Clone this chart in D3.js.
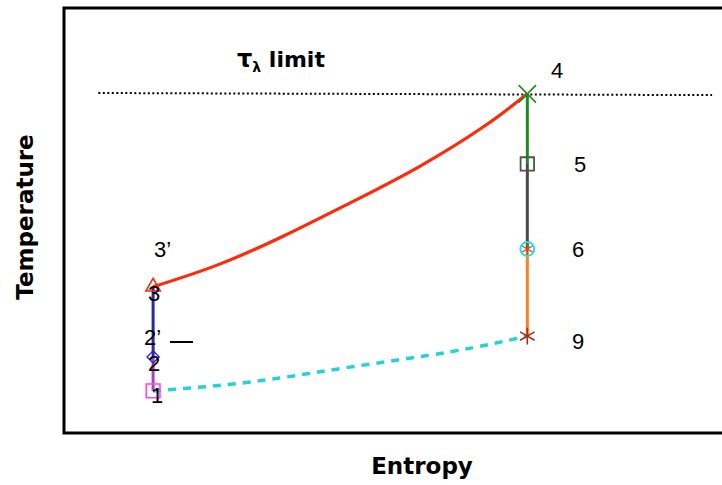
<!DOCTYPE html>
<html><head><meta charset="utf-8">
<script src="https://cdn.jsdelivr.net/npm/d3@7"></script>
<style>body{margin:0;background:#fff}svg{display:block}</style>
</head><body>
<svg id="c" width="722" height="485"></svg>
<script>
// Data (arbitrary entropy/temperature units)
const statePoints = [
  {id:"1", s:13.5, T:9.9},
  {id:"2", s:13.5, T:17.9},
  {id:"3", s:13.5, T:34.4},
  {id:"4", s:70.2, T:79.8},
  {id:"5", s:70.2, T:63.3},
  {id:"6", s:70.2, T:43.3},
  {id:"9", s:70.2, T:22.8}
];
const heatingS = [13.5, 23.2, 33.2, 43.3, 53.5, 63.5, 70.2];
const heatingT = [34.4, 39.5, 46.3, 54.1, 62.4, 72.0, 79.8];
const coolingS = [13.5, 28.2, 43.3, 58.5, 70.2];
const coolingT = [9.9, 12.0, 15.5, 19.1, 22.8];
const limitS = [5.2, 98.2];
const limitT = [80.0, 79.5];
const segments = [
  {from:"1", to:"2", color:"#b040b8"},
  {from:"2", to:"3", color:"#2a2aa8"},
  {from:"4", to:"5", color:"#1f8a1f"},
  {from:"5", to:"6", color:"#4a4a4a"},
  {from:"6", to:"9", color:"#ff7f1e"}
];

const svg = d3.select("#c");
const x = d3.scaleLinear().domain([0,100]).range([64,724]);
const y = d3.scaleLinear().domain([0,100]).range([433,8]);
const P = Object.fromEntries(statePoints.map(d=>[d.id,d]));

// frame
svg.append("rect").attr("x",x(0)).attr("y",y(100)).attr("width",x(100)-x(0)).attr("height",y(0)-y(100))
  .attr("fill","none").attr("stroke","#000").attr("stroke-width",3);

// limit line
svg.append("line").attr("x1",x(limitS[0])).attr("x2",x(limitS[1])).attr("y1",y(limitT[0])).attr("y2",y(limitT[1]))
  .attr("stroke","#000").attr("stroke-width",2).attr("stroke-dasharray","2,2.5");

const line = d3.line().x(d=>x(d[0])).y(d=>y(d[1])).curve(d3.curveNatural);
svg.append("path").attr("d",line(heatingS.map((s,i)=>[s,heatingT[i]])))
  .attr("fill","none").attr("stroke","#ff2a0a").attr("stroke-width",3.2);
svg.append("path").attr("d",line(coolingS.map((s,i)=>[s,coolingT[i]])))
  .attr("fill","none").attr("stroke","#22d3d3").attr("stroke-width",3.5).attr("stroke-dasharray","8,7");

segments.forEach(g=>{
  svg.append("line").attr("x1",x(P[g.from].s)).attr("x2",x(P[g.to].s))
    .attr("y1",y(P[g.from].T)).attr("y2",y(P[g.to].T))
    .attr("stroke",g.color).attr("stroke-width",3);
});

function mark(id, type, size, color, sw){
  svg.append("path").attr("d",d3.symbol().type(type).size(size)())
    .attr("transform",`translate(${x(P[id].s)},${y(P[id].T)})`)
    .attr("fill","none").attr("stroke",color).attr("stroke-width",sw||1.5);
}
mark("1", d3.symbolSquare2, 240, "#ff44ff", 1.6);
mark("2", d3.symbolDiamond2, 95, "#2020e0", 1.3);
mark("3", d3.symbolTriangle2, 150, "#ff2a0a", 1.6);
mark("4", d3.symbolX, 200, "#1f8a1f", 1.6);
mark("5", d3.symbolSquare2, 230, "#505050", 1.8);
mark("6", d3.symbolCircle, 150, "#22e0e0", 2);
mark("6", d3.symbolAsterisk, 100, "#c05020", 1.3);
mark("9", d3.symbolAsterisk, 200, "#b02a10", 1.6);

// labels
const numFont = "'Liberation Sans', Arial, sans-serif";
const labels = [
  {t:"4", x:551, y:78}, {t:"5", x:574, y:172}, {t:"6", x:572, y:257}, {t:"9", x:572, y:349},
  {t:"3\u2019", x:154, y:257}, {t:"3", x:148, y:301}, {t:"2\u2019", x:144, y:345},
  {t:"2", x:148, y:371}, {t:"1", x:151, y:403}
];
svg.selectAll(".lab").data(labels).join("text").attr("class","lab")
  .attr("x",d=>d.x).attr("y",d=>d.y).attr("font-family",numFont).attr("font-size",22)
  .attr("fill","#000").text(d=>d.t);
svg.append("line").attr("x1",170).attr("x2",193).attr("y1",342).attr("y2",342).attr("stroke","#000").attr("stroke-width",2);

const tl = svg.append("text").attr("x",237).attr("y",67).attr("font-family","'DejaVu Sans', Verdana, sans-serif")
  .attr("font-weight","bold").attr("font-size",22);
tl.append("tspan").attr("font-size",24).text("\u03C4");
tl.append("tspan").attr("font-size",14).attr("dy",5).text("\u03BB");
tl.append("tspan").attr("dy",-5).text(" limit");

svg.append("text").attr("x",422).attr("y",474).attr("text-anchor","middle")
  .attr("font-family","'DejaVu Sans', Verdana, sans-serif").attr("font-weight","bold").attr("font-size",23).text("Entropy");
svg.append("text").attr("transform","translate(33,217) rotate(-90)").attr("text-anchor","middle")
  .attr("font-family","'DejaVu Sans', Verdana, sans-serif").attr("font-weight","bold").attr("font-size",23).text("Temperature");
</script>
</body></html>
